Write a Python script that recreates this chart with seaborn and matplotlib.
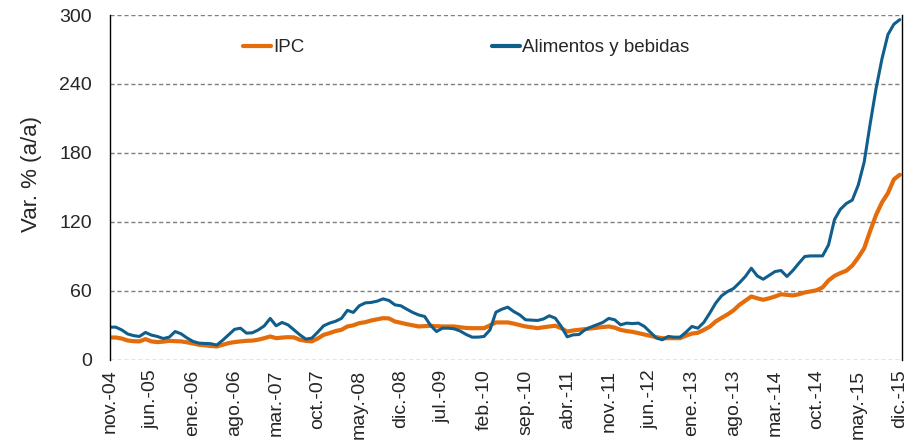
import numpy as np
import pandas as pd
import matplotlib
matplotlib.use("Agg")
import matplotlib.pyplot as plt
import seaborn as sns
from matplotlib.lines import Line2D

# --- Data: monthly y/y variation, nov-04 .. dic-15 ---
ipc = [19.4, 19.4, 18.5, 16.8, 16.2, 16.0, 18.0, 16.0, 15.4, 15.8,
       16.5, 16.2, 16.0, 15.2, 14.2, 13.1, 12.6, 12.0, 11.6, 13.0,
       14.5, 15.4, 16.0, 16.5, 16.7, 17.5, 18.8, 20.3, 18.8, 19.3,
       19.7, 19.5, 17.4, 16.5, 16.0, 18.5, 21.7, 23.2, 25.0, 26.1,
       29.0, 30.0, 31.9, 32.7, 34.2, 35.2, 36.2, 36.0, 33.3, 32.2,
       31.0, 30.0, 29.0, 29.3, 29.6, 29.2, 29.0, 29.0, 29.0, 28.3,
       27.7, 27.5, 27.5, 27.5, 30.0, 32.5, 32.5, 32.5, 31.5, 30.2,
       29.0, 28.3, 27.5, 28.3, 29.0, 29.6, 27.5, 24.6, 25.5, 26.1,
       26.7, 27.3, 27.9, 28.5, 29.0, 28.0, 26.0, 25.0, 24.3, 23.2,
       22.0, 20.8, 19.7, 18.8, 18.8, 18.8, 18.8, 21.0, 22.8, 23.5,
       26.0, 28.8, 33.3, 36.5, 39.5, 43.0, 47.8, 51.5, 55.1, 53.5,
       52.2, 53.5, 55.1, 57.0, 56.5, 56.0, 57.0, 58.6, 59.5, 60.5,
       63.0, 69.0, 73.0, 75.5, 77.5, 82.0, 89.0, 97.0, 112.0, 126.0,
       137.0, 145.0, 157.0, 161.0]

alimentos = [28.4, 28.4, 26.0, 22.5, 21.0, 20.3, 23.8, 21.5, 20.3, 18.5,
             19.7, 24.6, 22.6, 19.0, 16.0, 14.5, 14.2, 14.0, 12.8, 17.0,
             21.7, 26.5, 27.5, 23.2, 23.5, 26.0, 29.5, 36.0, 29.6, 32.5,
             30.4, 26.0, 21.7, 18.0, 18.8, 24.0, 29.6, 31.9, 33.5, 36.0,
             43.0, 41.2, 47.0, 49.5, 49.9, 51.0, 53.0, 51.6, 47.8, 47.0,
             44.0, 41.2, 39.0, 37.7, 30.0, 24.6, 27.5, 27.5, 26.9, 25.0,
             22.0, 19.7, 19.7, 20.3, 26.0, 41.4, 44.0, 45.8, 42.0, 39.1,
             34.8, 34.5, 34.2, 35.5, 38.3, 36.2, 29.0, 20.0, 21.7, 22.0,
             26.1, 28.5, 30.5, 32.5, 36.0, 34.8, 30.4, 31.9, 31.5, 31.9,
             29.0, 24.0, 19.0, 17.4, 20.3, 19.7, 19.7, 24.0, 29.0, 27.5,
             32.5, 40.6, 49.3, 55.7, 59.4, 62.0, 67.0, 72.5, 79.7, 73.0,
             70.1, 73.5, 76.8, 77.7, 72.5, 77.7, 84.0, 89.9, 90.4, 90.4,
             90.4, 100.0, 122.0, 131.0, 136.0, 139.0, 152.0, 172.0, 205.0, 236.0,
             262.0, 283.0, 292.0, 296.0]

tick_labels = ["nov.-04", "jun.-05", "ene.-06", "ago.-06", "mar.-07", "oct.-07",
               "may.-08", "dic.-08", "jul.-09", "feb.-10", "sep.-10", "abr.-11",
               "nov.-11", "jun.-12", "ene.-13", "ago.-13", "mar.-14", "oct.-14",
               "may.-15", "dic.-15"]

series_names = ["IPC", "Alimentos y bebidas"]
colors = ["#E46C0A", "#105E8C"]

# --- Long-format table for seaborn ---
n = len(ipc)
df = pd.DataFrame({
    "mes": list(range(n)) * 2,
    "valor": ipc + alimentos,
    "serie": [series_names[0]] * n + [series_names[1]] * n,
})

sns.set_style("white")
plt.rcParams["font.family"] = ["Liberation Sans", "DejaVu Sans"]

fig = plt.figure(figsize=(9.15, 4.42), dpi=100)
ax = fig.add_axes([0.120, 0.186, 0.866, 0.780])

# horizontal dashed gridlines
for yv in [0, 60, 120, 180, 240, 300]:
    ax.axhline(yv, color="#7f7f7f", lw=1.0, ls=(0, (3, 2)), zorder=0)

sns.lineplot(data=df, x="mes", y="valor", hue="serie", hue_order=series_names,
             palette=colors, ax=ax, legend=False)
for line, lw in zip(ax.get_lines()[-2:], [3.0, 2.2]):
    line.set_linewidth(lw)

ax.set_xlim(0, 133.4)
ax.set_ylim(0, 300)
ax.set_yticks([0, 60, 120, 180, 240, 300])
ax.set_xticks(list(range(0, n, 7)))
ax.set_xticklabels(tick_labels, rotation=90)
ax.tick_params(axis="x", length=0, pad=7, labelsize=14)
ax.tick_params(axis="y", length=0, pad=13, labelsize=14)
ax.set_xlabel("")
ax.set_ylabel("Var. % (a/a)", fontsize=16)
ax.yaxis.set_label_coords(-0.085, 0.54)

for side in ["left", "right"]:
    ax.spines[side].set_color("black")
    ax.spines[side].set_linewidth(1.0)
ax.spines["top"].set_visible(False)
ax.spines["bottom"].set_visible(False)

# legend
handles = [Line2D([], [], color=c, lw=3) for c in colors]
ax.legend(handles, series_names, ncol=2, frameon=False, fontsize=13.5,
          loc="center left", bbox_to_anchor=(0.168, 0.905),
          handlelength=1.5, handletextpad=0.1, columnspacing=10.0,
          borderpad=0, borderaxespad=0)

fig.savefig("out.png", dpi=100)
